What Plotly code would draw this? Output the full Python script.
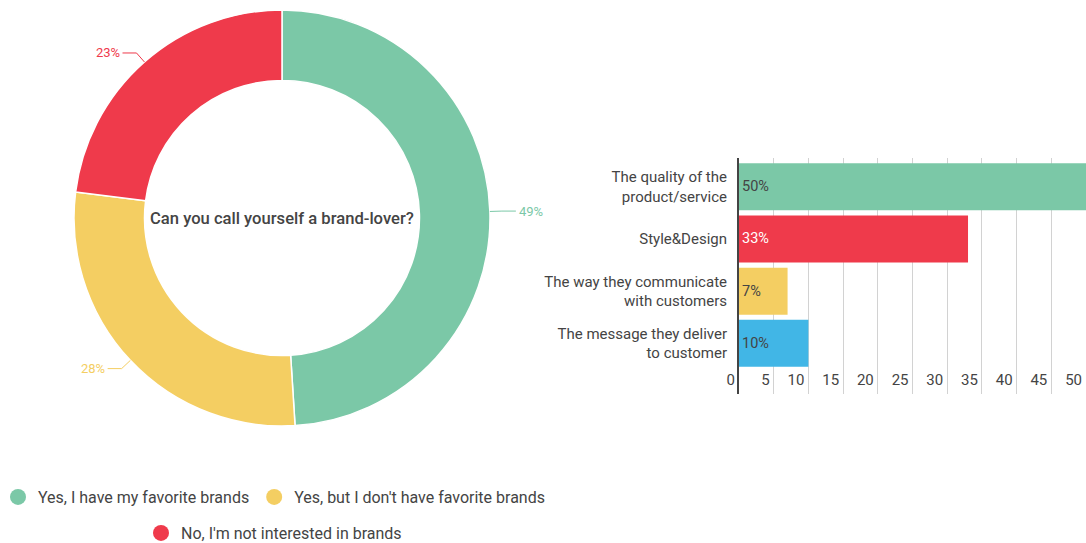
import math
import plotly.graph_objects as go

# ---------------- data ----------------
pie_labels = ["Yes, I have my favorite brands", "Yes, but I don't have favorite brands",
              "No, I'm not interested in brands"]
pie_values = [49, 28, 23]
pie_colors = ["#7BC8A7", "#F4CE62", "#EF3A4B"]
pie_title = "Can you call yourself a brand-lover?"

bar_categories = ["The quality of the<br>product/service", "Style&Design",
                  "The way they communicate<br>with customers",
                  "The message they deliver<br>to customer"]
bar_values = [50, 33, 7, 10]
bar_colors = ["#7BC8A7", "#EF3A4B", "#F4CE62", "#41B6E6"]
bar_text_colors = ["#444444", "#FFFFFF", "#444444", "#444444"]
x_ticks = [0, 5, 10, 15, 20, 25, 30, 35, 40, 45, 50]

W, H = 1086, 543
FONT = "Roboto"
TXT = "#444444"

# pie geometry in pixels
CX, CY, R = 282, 218, 208
HOLE = 0.661

def px(x):
    return x / W

def py(y):
    return 1 - y / H

fig = go.Figure()

fig.add_trace(go.Pie(
    labels=pie_labels, values=pie_values, sort=False, direction="clockwise",
    rotation=0, hole=HOLE,
    marker=dict(colors=pie_colors, line=dict(color="white", width=1.5)),
    textinfo="none", showlegend=False,
    domain=dict(x=[px(CX - R), px(CX + R)], y=[py(CY + R), py(CY - R)]),
))

fig.add_trace(go.Bar(
    y=bar_categories, x=bar_values, orientation="h",
    marker=dict(color=bar_colors, line=dict(width=0)),
    text=[f"{v}%" for v in bar_values], textposition="inside",
    insidetextanchor="start",
    textfont=dict(family=FONT, size=14.5, color=bar_text_colors),
    showlegend=False, cliponaxis=False,
))

# legend entries as circles
for i, (lab, col) in enumerate(zip(pie_labels, pie_colors)):
    fig.add_trace(go.Scatter(
        x=[None], y=[None], mode="markers", name=lab,
        marker=dict(color=col, size=18, symbol="circle"),
        legend="legend" if i < 2 else "legend2",
    ))

# outside percent labels with leader lines
total = sum(pie_values)
cum = 0
shapes = []
annotations = []
for v, col in zip(pie_values, pie_colors):
    mid = (cum + v / 2) / total * 2 * math.pi
    cum += v
    dx, dy = math.sin(mid), -math.cos(mid)
    ex, ey = CX + R * dx, CY + R * dy
    bx, by = CX + (R + 12) * dx, CY + (R + 12) * dy
    side = 1 if dx >= 0 else -1
    tx = bx + side * 14
    shapes.append(dict(
        type="path", xref="paper", yref="paper",
        path=f"M {px(ex)} {py(ey)} L {px(bx)} {py(by)} L {px(tx)} {py(by)}",
        line=dict(color=col, width=1),
    ))
    annotations.append(dict(
        x=px(tx), y=py(by), xref="paper", yref="paper",
        text=f"{round(v / total * 100)}%", showarrow=False,
        xanchor="left" if side > 0 else "right", yanchor="middle",
        xshift=side * 1,
        font=dict(family=FONT, size=13, color=col),
    ))

annotations.append(dict(
    x=px(CX), y=py(CY), xref="paper", yref="paper", text=pie_title,
    showarrow=False, xanchor="center", yanchor="middle",
    font=dict(family=FONT, size=16.6, color=TXT, weight=500),
))

fig.update_layout(
    width=W, height=H,
    margin=dict(l=0, r=0, t=0, b=0, autoexpand=False),
    paper_bgcolor="white", plot_bgcolor="white",
    font=dict(family=FONT, color=TXT, size=14),
    bargap=0.1,
    shapes=shapes, annotations=annotations,
    xaxis=dict(
        domain=[px(739), 1], range=[0, 50], tickvals=x_ticks,
        showgrid=True, gridcolor="#d2d2d2", gridwidth=1, zeroline=False,
        showline=False, ticks="", ticklabelposition="inside left",
        ticklabeloverflow="allow", ticklabelshift=-4,
        tickfont=dict(family=FONT, size=15, color=TXT), fixedrange=True,
    ),
    yaxis=dict(
        domain=[py(394), py(158)], type="category",
        categoryorder="array", categoryarray=bar_categories,
        range=[3.97, -0.55], showgrid=False, zeroline=False,
        showline=True, linecolor="#444444", linewidth=2,
        ticks="", ticklabelstandoff=7,
        tickfont=dict(family=FONT, size=15, color=TXT), fixedrange=True,
    ),
    legend=dict(
        orientation="h", x=px(274), xanchor="center", y=py(497), yanchor="middle",
        font=dict(family=FONT, size=16, color=TXT), itemsizing="trace",
        bgcolor="rgba(0,0,0,0)",
    ),
    legend2=dict(
        orientation="h", x=px(274), xanchor="center", y=py(533), yanchor="middle",
        font=dict(family=FONT, size=16, color=TXT), itemsizing="trace",
        bgcolor="rgba(0,0,0,0)",
    ),
)

fig.write_html("out.html")
